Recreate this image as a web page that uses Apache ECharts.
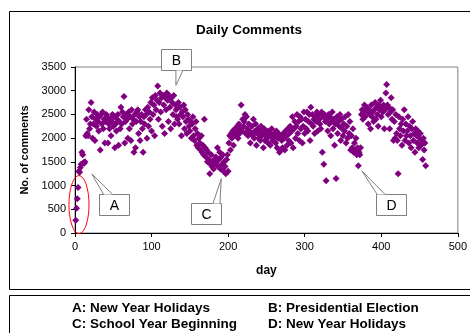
<!DOCTYPE html>
<html><head><meta charset="utf-8">
<script src="https://cdn.jsdelivr.net/npm/echarts@6/dist/echarts.min.js"></script>
<style>html,body{margin:0;padding:0;background:#fff}#c{width:470px;height:333px}</style>
</head><body><div id="c"></div>
<script>
// Daily comment counts, day 1 .. N
const comments = [
  270, 520, 720, 960, 1300, 1280, 1380, 1450, 1700, 1650,
  1480, 1470, 1500, 2050, 2400, 2100, 2050, 2600, 2200, 2300,
  2750, 2450, 2000, 2300, 2550, 1950, 2400, 2250, 2500, 2350,
  2150, 2450, 1750, 2500, 2300, 2550, 2200, 2400, 1900, 2350,
  2500, 2450, 1900, 2300, 2200, 2400, 2050, 2350, 2500, 2250,
  2450, 1800, 2300, 2150, 2400, 2500, 1850, 2350, 2200, 2650,
  2300, 2550, 2450, 2880, 1900, 2350, 2500, 2400, 2000, 2550,
  2200, 2450, 1950, 2600, 2300, 2400, 1700, 2500, 1800, 2350,
  2550, 2600, 2100, 2450, 1950, 2350, 2500, 2200, 1700, 2450,
  2300, 2600, 2500, 2000, 2650, 2250, 2550, 2400, 2750, 2150,
  2850, 2500, 2700, 2050, 2900, 2600, 2800, 3100, 2400, 2750,
  2950, 2550, 2850, 2250, 2900, 2700, 2100, 2850, 2600, 2950,
  2800, 2350, 2900, 2650, 2200, 2850, 2750, 2500, 2900, 2300,
  2700, 2600, 2450, 2400, 2750, 2300, 2650, 2500, 2050, 2550,
  2450, 2700, 2200, 2600, 2350, 2100, 2500, 2400, 2250, 2150,
  2350, 2000, 2300, 2450, 2050, 1950, 2200, 2350, 1850, 2100,
  1800, 2000, 1900, 1750, 2050, 1700, 1850, 1650, 2400, 1800,
  1600, 1750, 1500, 1700, 1550, 1250, 1450, 1650, 1400, 1500,
  1350, 1550, 1450, 1600, 1500, 1800, 1400, 1550, 1700, 1350,
  1600, 1450, 1650, 1300, 1500, 1400, 1250, 1550, 1650, 1300,
  1900, 2050, 1750, 2100, 2000, 2150, 1850, 2100, 2200, 2050,
  2150, 2250, 2000, 2300, 2100, 2200, 2700, 2150, 2400, 2250,
  2350, 2500, 2100, 2450, 2200, 2050, 2300, 2150, 1900, 2100,
  2250, 2050, 2400, 2000, 2150, 2300, 1850, 2100, 2200, 2000,
  2150, 1950, 2250, 2050, 2100, 1800, 2200, 1950, 2050, 2150,
  2000, 1900, 2150, 2100, 1850, 2050, 2200, 1950, 2000, 2100,
  2050, 1900, 2150, 1800, 2000, 2100, 1700, 2050, 1750, 1950,
  1800, 2100, 2000, 1750, 2150, 2050, 1850, 2200, 1950, 2100,
  2250, 1900, 2150, 2450, 1800, 2200, 2350, 2000, 2250, 2500,
  2100, 2350, 1950, 2450, 2200, 2400, 1900, 2250, 2550, 2100,
  2400, 2200, 2550, 2150, 2350, 2500, 1950, 2650, 2300, 2500,
  2250, 2400, 2100, 2450, 2350, 2550, 2150, 2500, 2400, 2300,
  2200, 2550, 1700, 2450, 1450, 2500, 2350, 1100, 2400, 2150,
  2500, 2300, 2450, 2050, 2350, 2550, 2200, 2400, 1850, 2300,
  1150, 2450, 2100, 2350, 2250, 2500, 1950, 2400, 2200, 2050,
  2300, 2150, 2450, 1900, 2250, 2000, 2500, 2100, 2350, 1750,
  2050, 1800, 2200, 1700, 1900, 1750, 2000, 1650, 1800, 1420,
  1700, 1650, 1800, 2500, 2600, 2400, 2550, 2700, 2450, 2600,
  2650, 2550, 2300, 2600, 2500, 2200, 2700, 2450, 2550, 2350,
  2600, 2750, 2400, 2650, 2500, 2250, 2700, 2600, 2800, 2450,
  2650, 2550, 2700, 2200, 2600, 2950, 3130, 2700, 2500, 2650,
  2200, 2550, 2850, 2400, 2600, 1950, 2350, 2000, 2500, 2100,
  1950, 1250, 2450, 2200, 2050, 2300, 1850, 2400, 2150, 2600,
  1950, 2300, 2050, 2150, 2450, 1900, 2250, 2050, 1800, 2200,
  2350, 1950, 2100, 1700, 2200, 2050, 1900, 2150, 1800, 2000,
  2100, 1850, 1950, 1550, 2000, 1750, 1900, 1420
];
const days = comments.map((_, i) => i + 1);

const xTicks = [0, 100, 200, 300, 400, 500];
const yTicks = [0, 500, 1000, 1500, 2000, 2500, 3000, 3500];

const legendLines = [
  ['A: New Year Holidays', 'B: Presidential Election'],
  ['C: School Year Beginning', 'D: New Year Holidays']
];

// callouts: tip and box centre in data coordinates
const callouts = [
  { label: 'A', tip: [22, 1247], box: [50.4, 608], base: [-10, -1] },
  { label: 'B', tip: [131.8, 3113], box: [131.8, 3648], base: [0, 7] },
  { label: 'C', tip: [191, 1143], box: [171, 409], base: [7, 14] },
  { label: 'D', tip: [374.7, 1310], box: [413, 608], base: [-14, -6] }
];
const ellipseCenter = [5.2, 598];

const FONT = 'Liberation Sans, Arial, sans-serif';
const chart = echarts.init(document.getElementById('c'), null, { renderer: 'canvas' });

const option = {
  animation: false,
  backgroundColor: '#fff',
  title: {
    text: 'Daily Comments', left: 244, top: 18, textAlign: 'center',
    textStyle: { fontFamily: FONT, fontSize: 13.5, fontWeight: 'bold', color: '#000' }
  },
  grid: { left: 75, right: 10, top: 67, bottom: 100, show: true, borderColor: '#808080', borderWidth: 1, backgroundColor: 'transparent' },
  xAxis: {
    type: 'value', min: xTicks[0], max: xTicks[xTicks.length - 1], interval: 100,
    name: 'day', nameLocation: 'middle', nameGap: 32,
    nameTextStyle: { fontFamily: FONT, fontSize: 12, fontWeight: 'bold', color: '#000' },
    axisLine: { show: true, lineStyle: { color: '#000', width: 1 } },
    axisTick: { show: true, length: 4, lineStyle: { color: '#000' } },
    axisLabel: { fontFamily: FONT, fontSize: 11, color: '#000', margin: 8, formatter: v => String(v) },
    splitLine: { show: false }
  },
  yAxis: {
    type: 'value', min: yTicks[0], max: yTicks[yTicks.length - 1], interval: 500,
    name: 'No. of comments', nameLocation: 'middle', nameGap: 35,
    nameTextStyle: { fontFamily: FONT, fontSize: 11, fontWeight: 'bold', color: '#000' },
    axisLine: { show: true, lineStyle: { color: '#000', width: 1 } },
    axisTick: { show: true, length: 4, lineStyle: { color: '#000' } },
    axisLabel: { fontFamily: FONT, fontSize: 11, color: '#000', margin: 9, formatter: v => String(v) },
    splitLine: { show: false }
  },
  series: [{
    type: 'scatter',
    symbol: 'diamond',
    symbolSize: 7,
    itemStyle: { color: '#800080', opacity: 1 },
    data: days.map((d, i) => [d, comments[i]])
  }]
};
chart.setOption(option);

function px(p) { return chart.convertToPixel({ gridIndex: 0 }, p); }

const graphics = [];
// outer chart frame and legend frame
graphics.push({ type: 'rect', silent: true, z: 0, shape: { x: 9.5, y: 11.5, width: 470, height: 278 }, style: { fill: 'none', stroke: '#000', lineWidth: 1 } });
graphics.push({ type: 'rect', silent: true, z: 0, shape: { x: 9.5, y: 295.5, width: 470, height: 60 }, style: { fill: 'none', stroke: '#000', lineWidth: 1 } });

// legend text
const colX = [72, 268];
const rowY = [308, 324];
legendLines.forEach((row, r) => row.forEach((t, c) => {
  graphics.push({ type: 'text', silent: true, z: 10, x: colX[c], y: rowY[r],
    style: { text: t, fontFamily: FONT, fontSize: 13.5, fontWeight: 'bold', fill: '#000', textVerticalAlign: 'middle', verticalAlign: 'middle' } });
}));

// red ellipse
const ec = px(ellipseCenter);
graphics.push({ type: 'ellipse', silent: true, z: 10, shape: { cx: ec[0], cy: ec[1], rx: 10, ry: 29 }, style: { fill: 'none', stroke: '#ff0000', lineWidth: 1 } });

// callouts
const BW = 30, BH = 21;
callouts.forEach(c => {
  const t = px(c.tip), b = px(c.box);
  const left = Math.round(b[0] - BW / 2) + 0.5, top = Math.round(b[1] - BH / 2) + 0.5;
  const edgeY = t[1] < b[1] ? top : top + BH;
  const b1 = [b[0] + c.base[0], edgeY], b2 = [b[0] + c.base[1], edgeY];
  graphics.push({ type: 'rect', silent: true, z: 20, shape: { x: left, y: top, width: BW, height: BH }, style: { fill: '#fff', stroke: '#7f7f7f', lineWidth: 1 } });
  graphics.push({ type: 'polygon', silent: true, z: 21, shape: { points: [b1, t, b2] }, style: { fill: '#fff', stroke: 'none' } });
  graphics.push({ type: 'polyline', silent: true, z: 22, shape: { points: [b1, t, b2] }, style: { fill: 'none', stroke: '#7f7f7f', lineWidth: 1 } });
  graphics.push({ type: 'text', silent: true, z: 23, x: left + BW / 2, y: top + BH / 2 + 1,
    style: { text: c.label, fontFamily: FONT, fontSize: 14, fill: '#000', align: 'center', verticalAlign: 'middle', textAlign: 'center', textVerticalAlign: 'middle' } });
});

chart.setOption({ graphic: graphics });
</script>
</body></html>
